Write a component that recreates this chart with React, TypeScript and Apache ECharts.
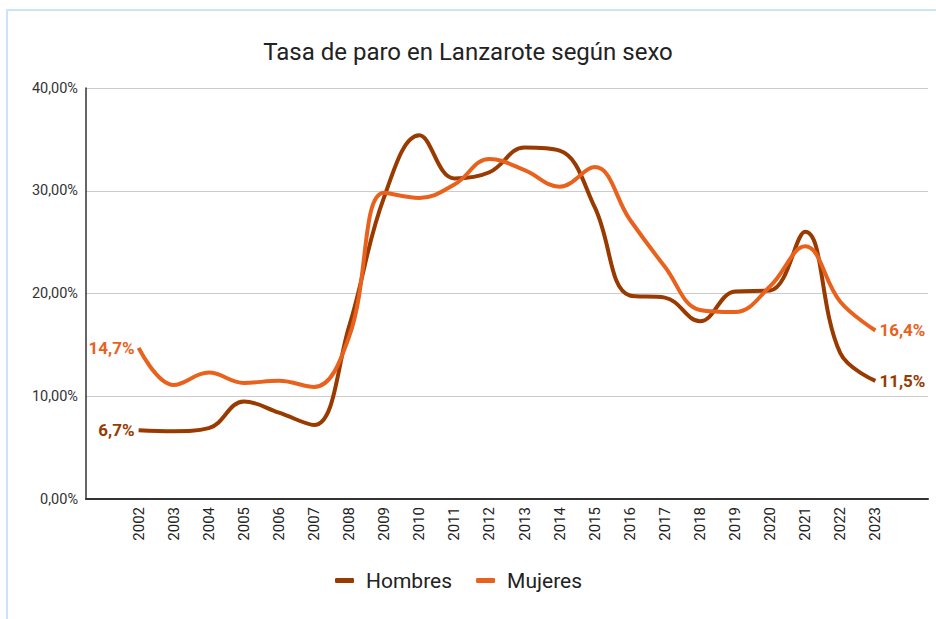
import React, { useEffect, useRef } from "react";
import * as echarts from "echarts";

const years = [
  "2002", "2003", "2004", "2005", "2006", "2007", "2008", "2009", "2010", "2011", "2012",
  "2013", "2014", "2015", "2016", "2017", "2018", "2019", "2020", "2021", "2022", "2023",
];
const hombres = [
  6.7, 6.6, 6.9, 9.5, 8.4, 7.2, 16.8, 29.4, 35.4, 31.2, 31.8,
  34.2, 33.9, 28.4, 19.8, 19.6, 17.3, 20.2, 20.3, 26.0, 14.2, 11.5,
];
const mujeres = [
  14.7, 11.1, 12.3, 11.3, 11.5, 10.9, 15.8, 29.8, 29.3, 30.6, 33.1,
  32.0, 30.4, 32.3, 27.2, 22.6, 18.4, 18.2, 20.7, 24.6, 19.2, 16.4,
];
const yTicks = [0, 10, 20, 30, 40];

const COLOR_H = "#993a00";
const COLOR_M = "#e9621d";
const FONT = "Roboto";

function buildData(values: number[], color: string) {
  const pct = (v: number) => v.toFixed(1).replace(".", ",") + "%";
  const items: any[] = values.map((v, i) => {
    if (i === 0 || i === values.length - 1) {
      return {
        value: v,
        label: {
          show: true,
          position: i === 0 ? "left" : "right",
          distance: 4,
          formatter: pct(v),
          color,
          fontWeight: "bold",
          fontSize: 17,
          fontFamily: FONT,
        },
      };
    }
    return v;
  });
  return [null, ...items, null];
}

export default function App() {
  const ref = useRef<HTMLDivElement>(null);
  useEffect(() => {
    if (!ref.current) return;
    const chart = echarts.init(ref.current, undefined, { renderer: "svg" });
    const lineSeries = (name: string, values: number[], color: string, z: number) => ({
      name,
      type: "line",
      smooth: 0.4,
      showSymbol: true,
      symbol: "circle",
      symbolSize: 0.01,
      label: { show: false },
      lineStyle: { width: 4, color },
      itemStyle: { color },
      data: buildData(values, color),
      z,
    });
    chart.setOption({
      animation: false,
      backgroundColor: "#ffffff",
      textStyle: { fontFamily: FONT },
      title: {
        text: "Tasa de paro en Lanzarote según sexo",
        left: "center",
        top: 35,
        textStyle: { fontSize: 24, fontWeight: "normal", color: "#222", fontFamily: FONT },
      },
      legend: {
        bottom: 23,
        left: 330,
        icon: "roundRect",
        itemWidth: 19,
        itemHeight: 5,
        itemGap: 24,
        textStyle: { fontSize: 21, color: "#222", fontFamily: FONT, padding: [0, 0, 0, 7] },
        data: ["Hombres", "Mujeres"],
      },
      graphic: [
        {
          type: "rect",
          shape: { x: 7, y: 10, width: 1200, height: 1200 },
          style: { fill: "none", stroke: "#cde3f7", lineWidth: 2 },
          silent: true,
        },
      ],
      grid: { left: 86, right: 8, top: 88, bottom: 120, containLabel: false },
      xAxis: {
        type: "category",
        boundaryGap: true,
        data: ["", ...years, ""],
        axisTick: { show: false },
        axisLine: { show: true, lineStyle: { color: "#333", width: 2 } },
        axisLabel: {
          rotate: 90,
          interval: 0,
          fontSize: 15,
          color: "#222",
          margin: 8,
          fontFamily: FONT,
        },
      },
      yAxis: {
        type: "value",
        min: yTicks[0],
        max: yTicks[yTicks.length - 1],
        interval: 10,
        axisLine: { show: true, lineStyle: { color: "#333", width: 1.5 } },
        axisTick: { show: false },
        splitLine: { lineStyle: { color: "#cccccc", width: 1 } },
        axisLabel: {
          fontSize: 14.5,
          color: "#333",
          margin: 8,
          fontFamily: FONT,
          formatter: (v: number) => v.toFixed(2).replace(".", ",") + "%",
        },
      },
      series: [
        lineSeries("Hombres", hombres, COLOR_H, 3),
        lineSeries("Mujeres", mujeres, COLOR_M, 4),
      ],
    });
    return () => chart.dispose();
  }, []);
  return (
    <div
      ref={ref}
      style={{ position: "fixed", left: 0, top: 0, width: 936, height: 619 }}
    />
  );
}
